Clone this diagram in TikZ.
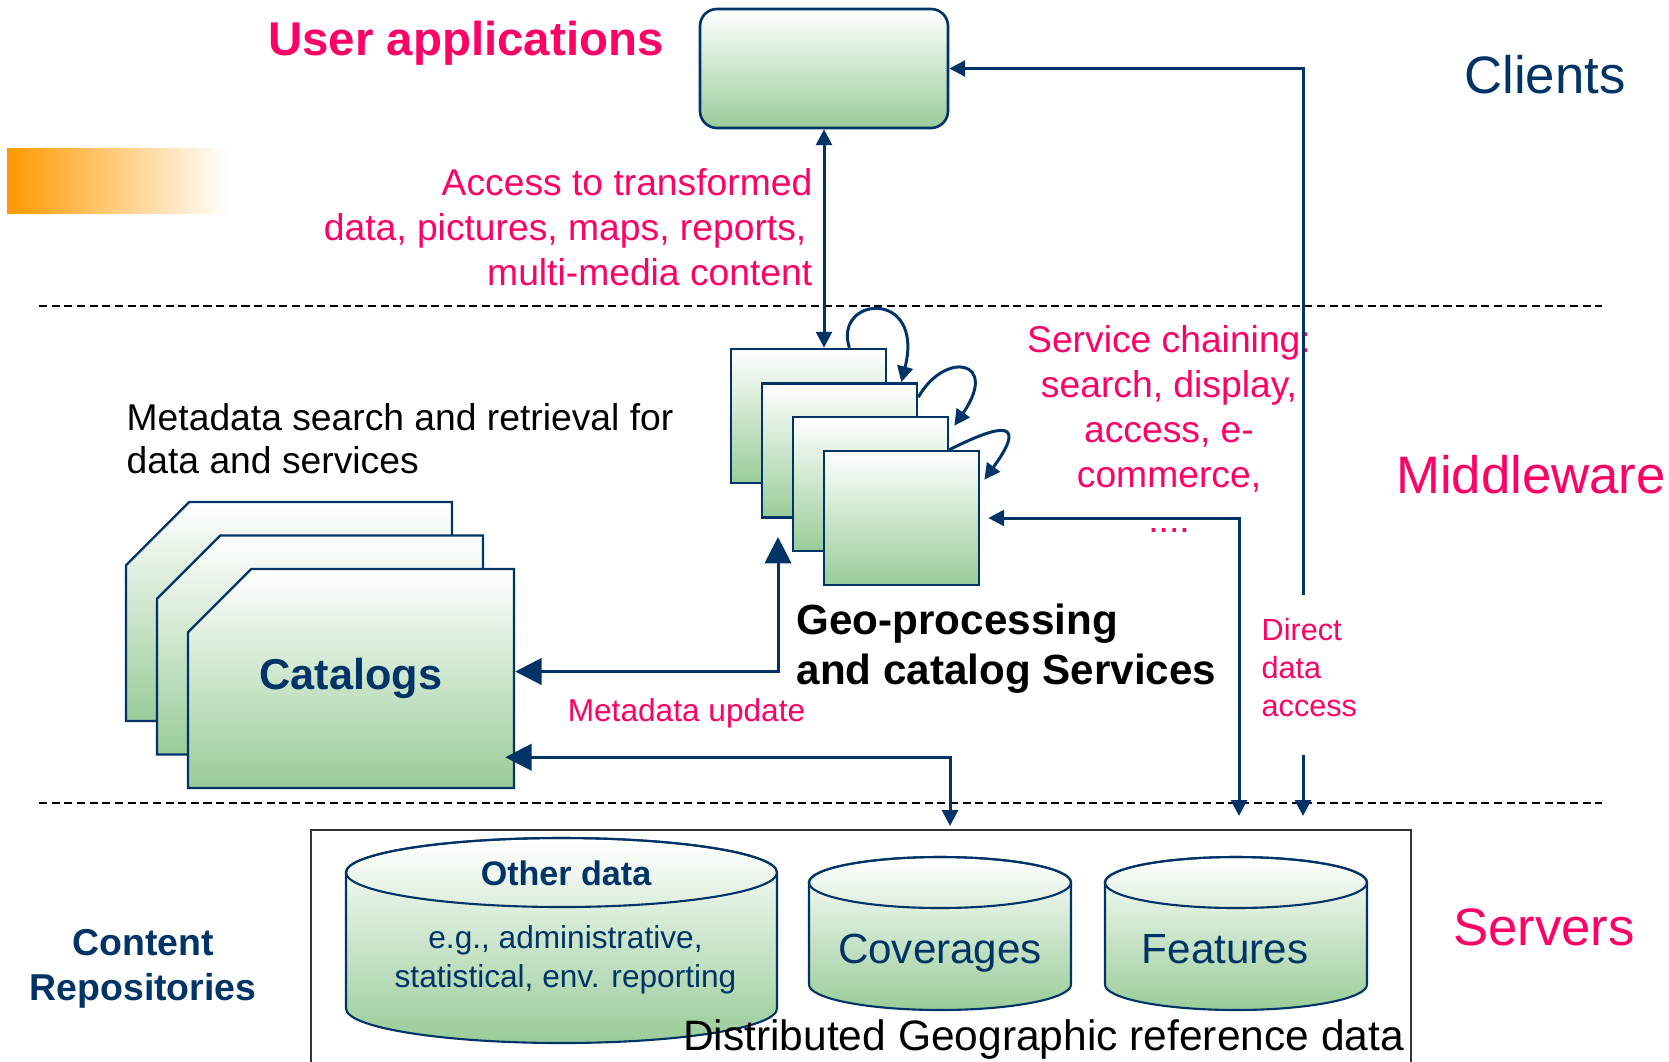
\documentclass[tikz,border=0pt]{standalone}
\usepackage{fontspec}
\setmainfont{Liberation Sans}
\usepackage{xcolor}
\usetikzlibrary{shapes,arrows,arrows.meta,positioning,calc}

\definecolor{navy}{RGB}{0,51,102}
\definecolor{hotpink}{RGB}{255,0,102}
\definecolor{boxgreen}{RGB}{153,204,153}
\definecolor{barorange}{RGB}{255,153,0}

\begin{document}
\begin{tikzpicture}[
    flow/.style={draw=navy, line width=0.85pt, >={Triangle[length=4.5pt,width=4.5pt]}},
    bigflow/.style={draw=navy, line width=0.85pt, >={Triangle[length=7.5pt,width=7.5pt]}},
    svcbox/.style={draw=navy, line width=0.75pt, top color=white, bottom color=boxgreen,
        minimum width=1.55cm, minimum height=1.34cm, inner sep=0pt},
    catbox/.style={chamfered rectangle, chamfered rectangle corners=north west,
        chamfered rectangle xsep=0.65cm, chamfered rectangle ysep=0.43cm,
        draw=navy, line width=0.7pt, top color=white, bottom color=boxgreen,
        minimum width=3.26cm, minimum height=2.19cm, inner sep=0pt,
        font=\bfseries\fontsize{12.3}{14}\selectfont, text=navy},
    drum/.style={draw=navy, line width=0.6pt, top color=white, bottom color=boxgreen},
    layer/.style={dash pattern=on 2.3pt off 1.3pt, line width=0.6pt}
    ]
        \useasboundingbox (0,0) rectangle (16.69,10.61);

        % orange band and layer borders
        \shade[left color=barorange, right color=white] (0.07,8.48) rectangle (2.28,9.13);
        \draw[layer] (0.39,7.55) -- (16.02,7.55);
        \draw[layer] (0.39,2.58) -- (16.02,2.58);

        % Clients
        \node[draw=navy, line width=0.75pt, rounded corners=0.17cm, top color=white, bottom color=boxgreen,
            minimum width=2.48cm, minimum height=1.19cm] (user) at (8.24,9.925) {};
        \node[font=\bfseries\fontsize{13.5}{16}\selectfont, text=hotpink, anchor=base] (apps) at (4.66,10.06) {User applications};
        \node[font=\fontsize{15}{18}\selectfont, text=navy, anchor=base] (clients) at (15.45,9.68) {Clients};
        \node[font=\fontsize{10.6}{12.8}\selectfont, text=hotpink, align=right, anchor=north east, inner sep=0pt] (access)
            at (8.13,8.93) {Access to transformed\\ data, pictures, maps, reports,\rule{0.06cm}{0pt}\\ multi-media content};

        % Middleware: services
        \node[svcbox] (svc1) at (8.085,6.45) {};
        \node[svcbox] (svc2) at (8.395,6.105) {};
        \node[svcbox] (svc3) at (8.705,5.77) {};
        \node[svcbox] (svc4) at (9.015,5.43) {};
        \node[font=\bfseries\fontsize{12}{14.2}\selectfont, align=left, anchor=north west, inner sep=0pt] (geo)
            at (7.96,4.58) {Geo-processing\\ and catalog Services};
        \node[font=\fontsize{10.6}{12.8}\selectfont, text=hotpink, align=center, anchor=north, inner sep=0pt] (chaining)
            at (11.69,7.36) {Service chaining:\\ search, display,\\ access, e-\\ commerce,\\ ....};
        \node[font=\fontsize{15}{18}\selectfont, text=hotpink, anchor=base] (middle) at (15.31,5.68) {Middleware};

        % Middleware: catalogs
        \node[catbox] (cat1) at (2.89,4.495) {\phantom{Catalogs}};
        \node[catbox] (cat2) at (3.20,4.16) {\phantom{Catalogs}};
        \node[catbox] (cat) at (3.51,3.825) {Catalogs};
        \node[font=\fontsize{10.6}{12.2}\selectfont, align=left, anchor=north west, inner sep=0pt] (metasearch)
            at (1.26,6.58) {Metadata search and retrieval for\\ data and services};
        \node[font=\fontsize{9}{11}\selectfont, text=hotpink, anchor=base] (mdupdate) at (6.865,3.40) {Metadata update};
        \node[font=\fontsize{8.7}{10.8}\selectfont, text=hotpink, align=left, anchor=north west, inner sep=0pt] (direct)
            at (12.61,4.43) {Direct\\ data\\ access};

        % Servers
        \node[draw=black!80, line width=0.6pt, minimum width=11cm, minimum height=2.6cm, inner sep=0pt] (store) at (8.61,1.01) {};
        \draw[drum] (3.46,1.885) -- (3.46,0.525) arc[start angle=180, end angle=360, x radius=2.155, y radius=0.345]
            -- (7.77,1.885) arc[start angle=0, end angle=180, x radius=2.155, y radius=0.345] -- cycle;
        \draw[navy, line width=0.6pt] (5.615,1.885) ellipse [x radius=2.155, y radius=0.345];
        \foreach \cx in {9.40,12.36} {
            \draw[drum] (\cx-1.31,1.785) -- (\cx-1.31,0.765) arc[start angle=180, end angle=360, x radius=1.31, y radius=0.255]
                -- (\cx+1.31,1.785) arc[start angle=0, end angle=180, x radius=1.31, y radius=0.255] -- cycle;
            \draw[navy, line width=0.6pt] (\cx,1.785) ellipse [x radius=1.31, y radius=0.255];
        }
        \node[font=\bfseries\fontsize{9.7}{11}\selectfont, text=navy, anchor=base] (othertitle) at (5.66,1.76) {Other data};
        \node[font=\fontsize{9}{11}\selectfont, text=navy, align=center, anchor=north, inner sep=0pt] (othernote)
            at (5.655,1.36) {e.g., administrative,\\ statistical, env. reporting};
        \node[font=\fontsize{12}{14}\selectfont, text=navy, anchor=base] (cov) at (9.40,0.98) {Coverages};
        \node[font=\fontsize{12}{14}\selectfont, text=navy, anchor=base] (feat) at (12.25,0.98) {Features};
        \node[font=\fontsize{12.1}{14}\selectfont, anchor=base] (distrib) at (10.435,0.11) {Distributed Geographic reference data};
        \node[font=\fontsize{15}{18}\selectfont, text=hotpink, anchor=base] (servers) at (15.44,1.16) {Servers};
        \node[font=\bfseries\fontsize{10.65}{12.8}\selectfont, text=navy, align=center, anchor=north, inner sep=0pt] (repos)
            at (1.43,1.32) {Content\\ Repositories};

        % Connectors
        \coordinate (dmid) at (13.03,4.66);
        \coordinate (dlow) at (13.03,3.06);
        \coordinate (chainx) at (12.39,5.18);
        \coordinate (mdup) at (7.78,5.24);
        \coordinate (mdown) at (9.50,3.05);
        \draw[flow, <->] (user.south) -- (user.south |- svc1.north);
        \draw[flow, ->] (dmid) |- (user.east);
        \draw[flow, ->, shorten >=0.13cm] (dlow) -- (dlow |- store.north);
        \draw[flow, <->, shorten <=0.08cm, shorten >=0.13cm] (svc4.east) -| (chainx |- store.north);
        \draw[bigflow, <->] ([yshift=0.07cm]cat.east) -| (mdup);
        \draw[flow, {Triangle[length=7.5pt,width=7.5pt]}-{Triangle[length=4.5pt,width=4.5pt]}, shorten >=0.03cm]
            ([xshift=-0.1cm,yshift=0.32cm]cat.south east) -| (mdown |- store.north);

        % Service chaining loops
        \draw[flow, ->] ([xshift=-0.38cm]svc1.north east) .. controls (8.33,7.65) and (9.25,7.73) .. ([xshift=-0.17cm]svc2.north east);
        \draw[flow, ->] ([yshift=-0.15cm]svc2.north east) .. controls (9.45,7.11) and (10.00,7.01) .. ([xshift=0.05cm,yshift=-0.1cm]svc3.north east);
        \draw[flow, ->] (svc3.east |- svc4.north) .. controls (9.85,6.29) and (10.35,6.51) .. ([xshift=0.04cm,yshift=-0.3cm]svc4.north east);
    \end{tikzpicture}
\end{document}
